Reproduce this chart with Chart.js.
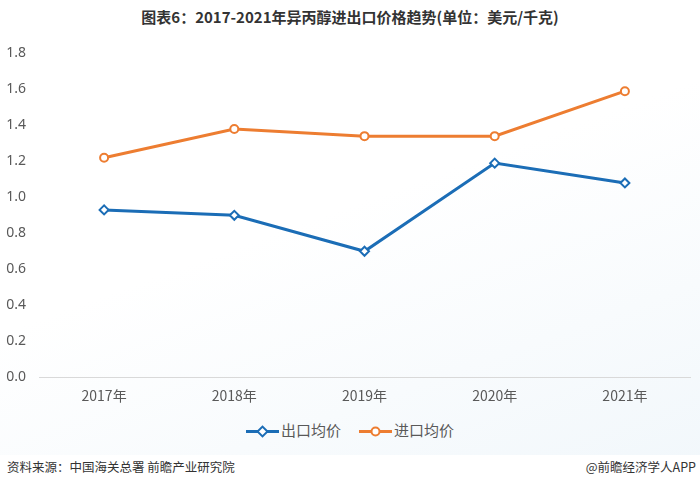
<!DOCTYPE html>
<html>
<head>
<meta charset="utf-8">
<script src="https://cdn.jsdelivr.net/npm/chart.js@4/dist/chart.umd.min.js"></script>
<style>
    body { margin: 0; }
    #wrap {
        position: relative; width: 700px; height: 485px; overflow: hidden;
        background: linear-gradient(160deg, #ffffff 45%, #f1f7fb 100%);
        font-family: "Noto Sans CJK SC", "Noto Sans", sans-serif;
    }
    #title {
        position: absolute; top: 6px; left: 0; width: 700px; text-align: center;
        font-size: 15px; font-weight: bold; color: #333;
    }
    #chart-box { position: absolute; left: 0; top: 32px; width: 700px; height: 382px; }
    #legend {
        position: absolute; top: 419px; left: 0; width: 700px; text-align: center;
        font-size: 15px; color: #595959;
    }
    .item { display: inline-block; margin: 0 9px; }
    .mark { display: inline-block; vertical-align: middle; margin-right: 2px; }
    #footer {
        position: absolute; top: 455px; left: 0; width: 700px; height: 30px; background: #fff;
        font-size: 12.5px; color: #333;
    }
    #src { position: absolute; left: 7px; top: 2px; }
    #app { position: absolute; right: 4px; top: 2px; }
</style>
</head>
<body>
<div id="wrap">
    <div id="title">图表6：2017-2021年异丙醇进出口价格趋势(单位：美元/千克)</div>
    <div id="chart-box"><canvas id="price-chart"></canvas></div>
    <div id="legend"></div>
    <div id="footer">
        <span id="src">资料来源：中国海关总署 前瞻产业研究院</span>
        <span id="app">@前瞻经济学人APP</span>
    </div>
</div>
<script>
const years = ['2017年', '2018年', '2019年', '2020年', '2021年'];
const exportPrice = [0.93, 0.90, 0.70, 1.19, 1.08];
const importPrice = [1.22, 1.38, 1.34, 1.34, 1.59];
const seriesNames = ['出口均价', '进口均价'];

const blue = '#1b6db6';
const orange = '#ed7d31';

function makeLine(label, data, color, pointStyle) {
    return {
        label: label,
        data: data,
        borderColor: color,
        backgroundColor: '#ffffff',
        borderWidth: 3,
        pointStyle: pointStyle,
        pointRadius: pointStyle === 'rectRot' ? 4.5 : 4,
        pointBorderWidth: 2,
        pointBackgroundColor: '#ffffff',
        pointBorderColor: color,
        tension: 0
    };
}

const ctx = document.getElementById('price-chart').getContext('2d');
const priceChart = new Chart(ctx, {
    type: 'line',
    data: {
        labels: years,
        datasets: [
            makeLine(seriesNames[0], exportPrice, blue, 'rectRot'),
            makeLine(seriesNames[1], importPrice, orange, 'circle')
        ]
    },
    options: {
        responsive: true,
        maintainAspectRatio: false,
        animation: false,
        layout: { padding: { left: 5, right: 10, top: 18, bottom: 0 } },
        plugins: {
            legend: { display: false },
            tooltip: { enabled: false }
        },
        scales: {
            x: {
                offset: true,
                grid: { display: false, drawTicks: false },
                border: { display: true, color: '#d9d9d9', width: 1 },
                ticks: { color: '#595959', font: { size: 14, family: 'Noto Sans CJK SC' }, padding: 10 }
            },
            y: {
                min: 0,
                max: 1.8,
                grid: { display: false, drawTicks: false },
                border: { display: false },
                afterFit: scale => { scale.width = 34; },
                ticks: {
                    stepSize: 0.2,
                    color: '#595959',
                    font: { size: 14, family: 'Noto Sans' },
                    padding: 13,
                    callback: v => v.toFixed(1)
                }
            }
        }
    }
});

// legend with line + marker
const legendBox = document.getElementById('legend');
[[seriesNames[0], blue, 'diamond'], [seriesNames[1], orange, 'circle']].forEach(([name, color, shape]) => {
    const marker = shape === 'diamond'
        ? '<rect x="13" y="3" width="7" height="7" transform="rotate(45 16.5 6.5)" fill="#fff" stroke="' + color + '" stroke-width="2"/>'
        : '<circle cx="16.5" cy="6.5" r="4" fill="#fff" stroke="' + color + '" stroke-width="2"/>';
    legendBox.innerHTML += '<span class="item"><svg class="mark" width="33" height="13">' +
        '<line x1="0" y1="6.5" x2="33" y2="6.5" stroke="' + color + '" stroke-width="3"/>' + marker +
        '</svg>' + name + '</span>';
});
</script>
</body>
</html>
